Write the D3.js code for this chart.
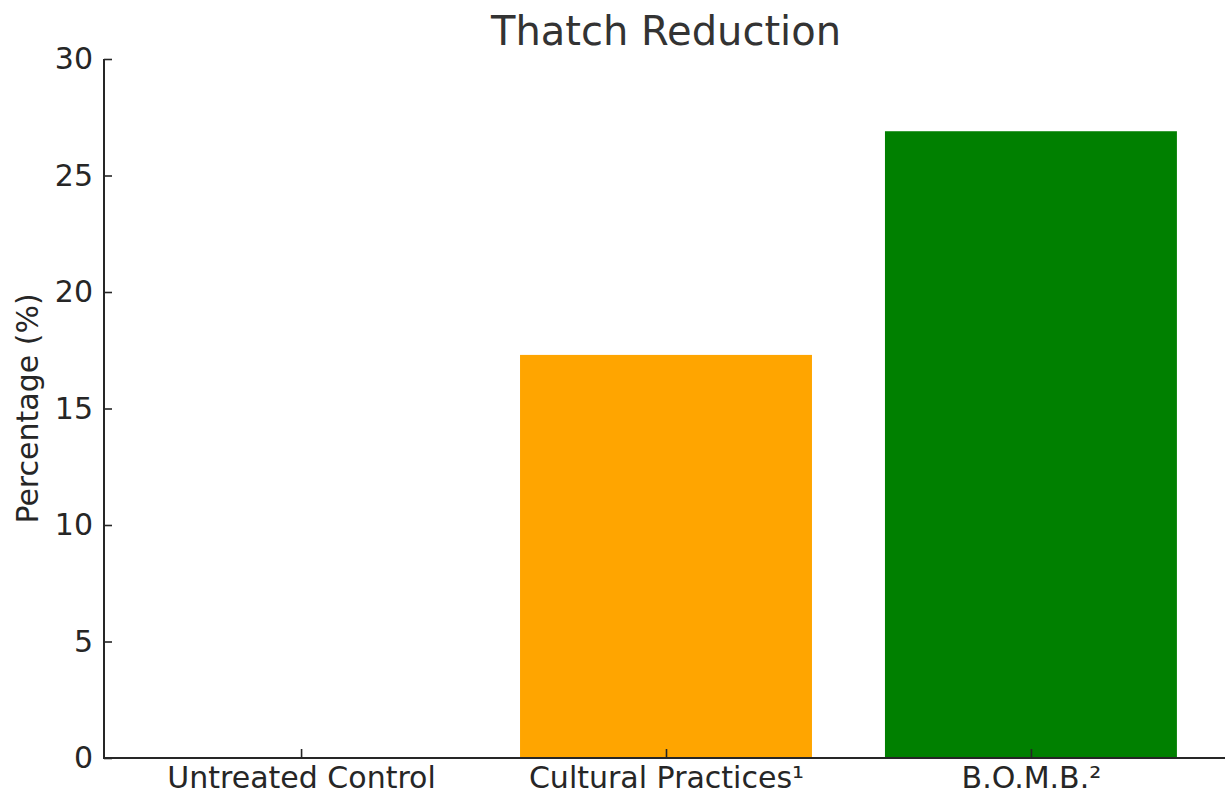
<!DOCTYPE html>
<html><head><meta charset="utf-8">
<script src="https://cdn.jsdelivr.net/npm/d3@7"></script>
<style>body{margin:0;background:#fff;} svg{display:block;font-family:"DejaVu Sans",sans-serif;}</style>
</head><body>
<script>
const categories = ["Untreated Control", "Cultural Practices¹", "B.O.M.B.²"];
const values = [0, 17.3, 26.9];
const colors = ["#4c72b0", "orange", "green"];
const yTicks = [0, 5, 10, 15, 20, 25, 30];
const title = "Thatch Reduction";
const yLabel = "Percentage (%)";

(function () {
const W = 1225, H = 795;
const mLeft = 104, mRight = 1228, mTop = 59, mBottom = 758;
const svg = d3.select("body").append("svg").attr("width", W).attr("height", H);

// matplotlib-like bar positioning: centers at 0,1,2, width 0.8, xlim (-0.54, 2.54)
const x = d3.scaleLinear().domain([-0.54, 2.54]).range([mLeft, mRight]);
const y = d3.scaleLinear().domain([0, 30]).range([mBottom, mTop]);
const bw = x(0.8) - x(0);

svg.append("g").selectAll("rect").data(values).join("rect")
  .attr("x", (d, i) => x(i) - bw / 2)
  .attr("y", d => y(d))
  .attr("width", bw)
  .attr("height", d => y(0) - y(d))
  .attr("fill", (d, i) => colors[i]);

const yAxis = d3.axisLeft(y).tickValues(yTicks).tickSize(-8).tickPadding(11).tickFormat(d3.format("d"));
const gy = svg.append("g").attr("transform", `translate(${mLeft},0)`).call(yAxis);
const xAxis = d3.axisBottom(x).tickValues([0, 1, 2]).tickSize(-9).tickPadding(9).tickFormat((d) => categories[d]);
const gx = svg.append("g").attr("transform", `translate(0,${mBottom})`).call(xAxis);

[gy, gx].forEach(g => {
  g.select(".domain").remove();
  g.selectAll(".tick line").attr("stroke", "#262626").attr("stroke-width", 1.6);
  g.selectAll("text").attr("fill", "#262626").style("font-size", "30px").style("font-family", "DejaVu Sans");
});
svg.append("line").attr("x1", mLeft).attr("x2", mLeft).attr("y1", mTop).attr("y2", mBottom + 1)
  .attr("stroke", "#262626").attr("stroke-width", 2);
svg.append("line").attr("x1", mLeft - 1).attr("x2", mRight).attr("y1", mBottom).attr("y2", mBottom)
  .attr("stroke", "#262626").attr("stroke-width", 2);

svg.append("text").attr("x", (mLeft + mRight) / 2).attr("y", 45).attr("text-anchor", "middle")
  .attr("fill", "#333").style("font-size", "40px").text(title);
svg.append("text").attr("transform", `translate(38,${(mTop + mBottom) / 2}) rotate(-90)`)
  .attr("text-anchor", "middle").attr("fill", "#262626").style("font-size", "30px").text(yLabel);
})();
</script>
</body></html>
